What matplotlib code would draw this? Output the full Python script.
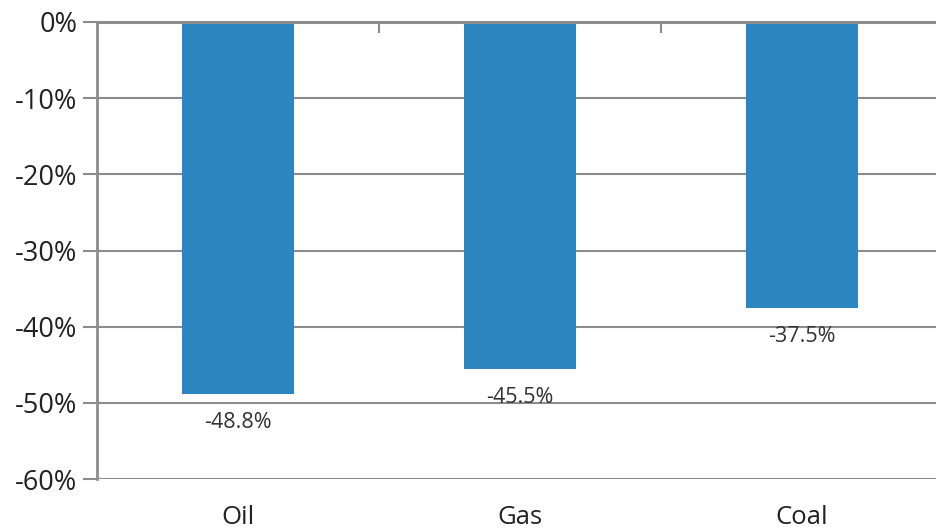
import numpy as np
import matplotlib.pyplot as plt
from matplotlib.ticker import FixedLocator, FuncFormatter

fuels = ['Oil', 'Gas', 'Coal']
change = [-48.8, -45.5, -37.5]
y_ticks = [0, -10, -20, -30, -40, -50, -60]

plt.rcParams['font.family'] = ['Open Sans', 'DejaVu Sans']

fig = plt.figure(figsize=(9.37, 5.30), dpi=100)
ax = fig.add_axes([0.1035, 0.0962, 0.9029, 0.8623])

x = np.arange(len(fuels))
bars = ax.bar(x, change, width=0.4, color='#2E86C1', zorder=3)

ax.set_xlim(-0.5, 2.5)
ax.set_ylim(-60, 0)
ax.set_yticks(y_ticks)
ax.yaxis.set_major_formatter(FuncFormatter(lambda v, p: f'{v:.0f}%'))
ax.grid(axis='y', color='#8c8c8c', linewidth=1.5, zorder=0)

ax.set_xticks(x)
ax.set_xticklabels(fuels)
ax.xaxis.set_minor_locator(FixedLocator([0.5, 1.5]))
ax.tick_params(axis='x', which='major', length=0, labelsize=18.5, pad=19, labelcolor='#222222')
ax.tick_params(axis='x', which='minor', bottom=False, top=True, direction='in',
               length=8, width=1.5, color='#8c8c8c')
ax.tick_params(axis='y', length=10, width=1.5, color='#8c8c8c', labelsize=19.5,
               labelcolor='#222222', pad=4)

for s in ['right', 'bottom']:
    ax.spines[s].set_visible(False)
ax.spines['left'].set_color('#8c8c8c')
ax.spines['left'].set_linewidth(2)
ax.spines['top'].set_color('#8c8c8c')
ax.spines['top'].set_linewidth(2.2)
ax.spines['top'].set_zorder(4)

for b, v in zip(bars, change):
    ax.annotate(f'{v:.1f}%', (b.get_x() + b.get_width() / 2, v),
                xytext=(0, -13), textcoords='offset points',
                ha='center', va='top', fontsize=15.5, color='#333333')

fig.savefig('out.png', dpi=100)
